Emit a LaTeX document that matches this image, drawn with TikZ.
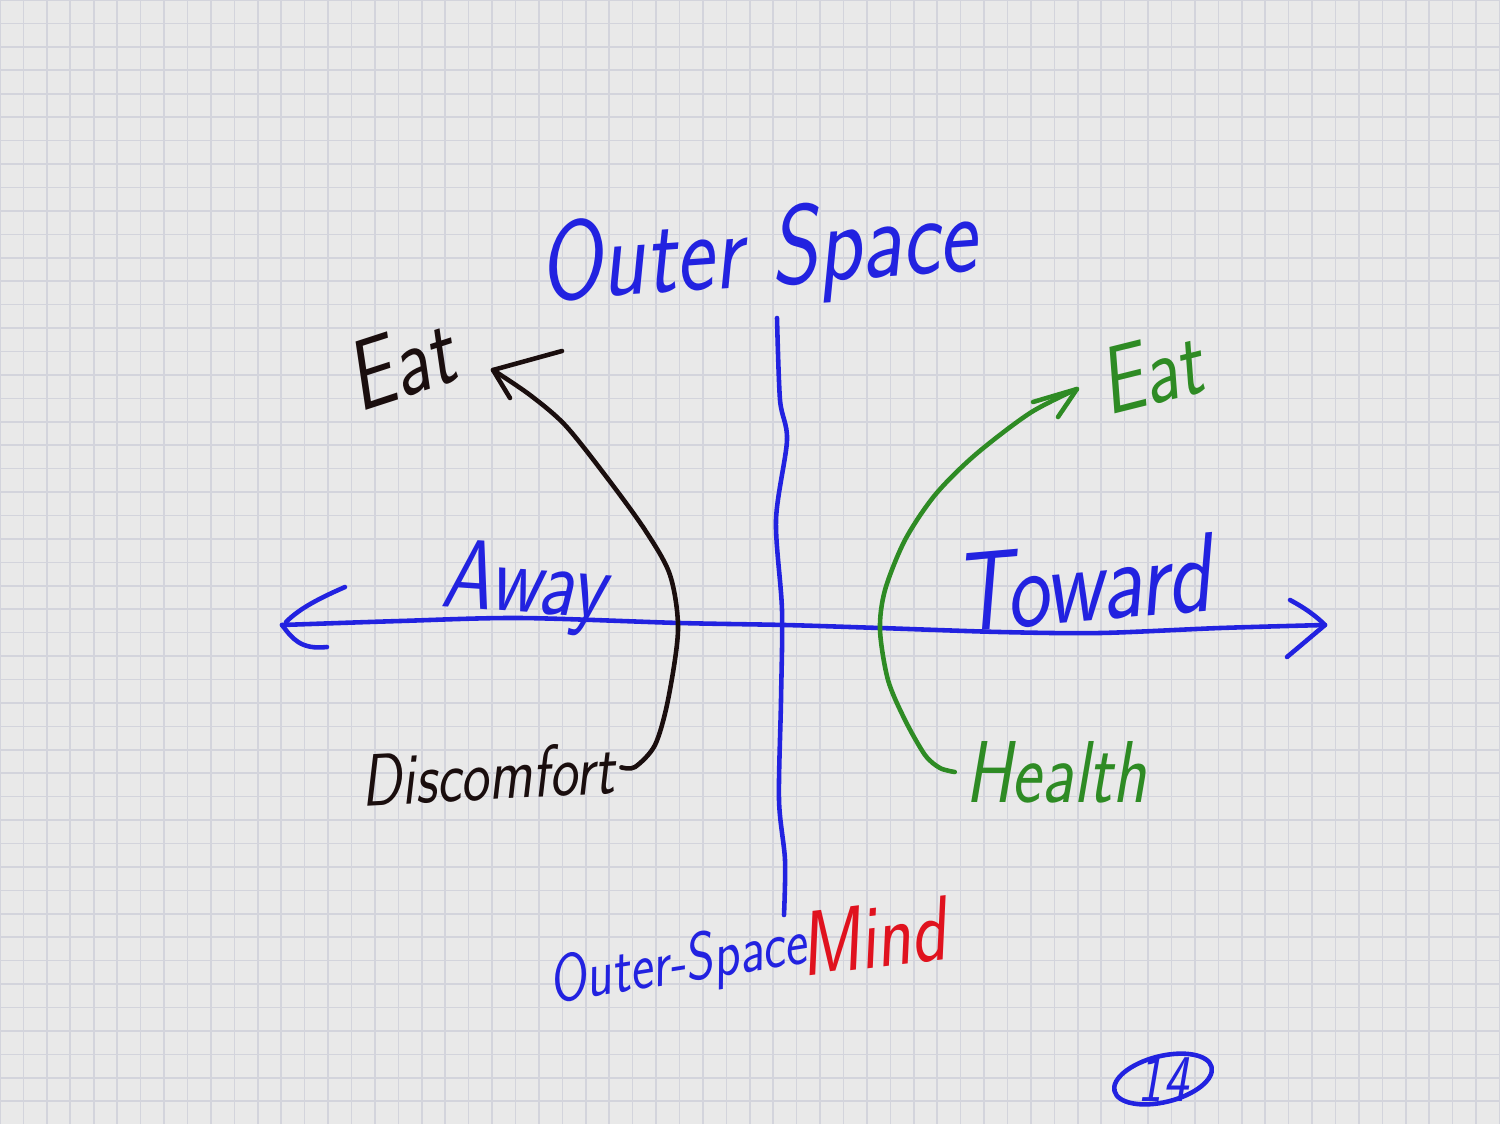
\documentclass[tikz,border=0pt]{standalone}
\usepackage{fontspec}
\usetikzlibrary{positioning}

\definecolor{paper}{HTML}{E9E9E9}
\definecolor{gridink}{HTML}{D3D4DC}
\definecolor{inkblue}{HTML}{2222E0}
\definecolor{inkblack}{HTML}{1A0E0E}
\definecolor{inkgreen}{HTML}{2E8B24}
\definecolor{inkred}{HTML}{E0121E}

% scrittura a mano: un po' stretta
\newcommand{\scritto}[2]{\fontsize{#1}{#1}\selectfont\scalebox{0.8}[1]{#2}}

\tikzset{
  pen/.style={line width=1.3pt, line cap=round, line join=round},
  bluepen/.style={pen, draw=inkblue},
  blackpen/.style={pen, draw=inkblack},
  greenpen/.style={pen, draw=inkgreen},
  hand/.style={font=\sffamily\slshape, inner sep=0pt, outer sep=0pt},
  gridline/.style={draw=gridink, line width=0.45pt}
}

\begin{document}
\begin{tikzpicture}[x=0.01cm, y=-0.01cm]
            % Carta quadrettata
            \fill[paper] (0,0) rectangle (1500,1124);
            \useasboundingbox (0,0) rectangle (1500,1124);
            \foreach \i in {0,...,64}
                \draw[gridline] (\i*23.43,0) -- (\i*23.43,1124);
            \foreach \j in {0,...,47}
                \draw[gridline] (0,\j*23.43) -- (1500,\j*23.43);

            % Etichette
            \node[hand, text=inkblue, rotate=4] (outer) at (758,257) {\scritto{32}{Outer Space}};
            \node[hand, text=inkblack, rotate=18] (eatL) at (400,364) {\scritto{28}{Eat}};
            \node[hand, text=inkgreen, rotate=14] (eatR) at (1150,372) {\scritto{27}{Eat}};
            \node[hand, text=inkblue, rotate=-4] (away) at (524,588) {\scritto{28}{Away}};
            \node[hand, text=inkblue, rotate=5] (toward) at (1082,583) {\scritto{32}{Toward}};
            \node[hand, text=inkblack, rotate=3] (discomfort) at (488,774) {\scritto{21}{Discomfort}};
            \node[hand, text=inkgreen] (health) at (1056,772) {\scritto{25}{Health}};
            \node[hand, text=inkblue, rotate=9] (bottom) at (678,966) {\scritto{19}{Outer-Space}};
            \node[hand, text=inkred, rotate=7, right=-2pt of bottom.east, anchor=west] (mind) {\scritto{26}{Mind}};
            \node[hand, text=inkblue] (page) at (1163,1079) {\scritto{19}{14}};
            \draw[bluepen, rotate around={14:(page.center)}] (page.center) ellipse [x radius=50, y radius=23];

            % Assi
            \coordinate (left) at (282,625);
            \coordinate (right) at (1325,625);
            \coordinate (vtop) at (777,318);
            \coordinate (vbot) at (784,915);
            \draw[bluepen] plot[smooth] coordinates {(left) (400,621) (520,618) (680,623) (785,625) (880,628) (1000,632) (1100,633) (1220,628) (right)};
            \draw[bluepen] plot[smooth] coordinates {(vtop) (780,400) (787,440) (776,520) (782,610) (781,700) (779,800) (785,860) (vbot)};
            \draw[bluepen] (345,587) .. controls (320,598) and (300,608) .. (286,622);
            \draw[bluepen] (left) .. controls (292,638) and (300,650) .. (327,647);
            \draw[bluepen] (1290,600) .. controls (1305,608) and (1316,616) .. (right) -- (1287,657);

            % Freccia nera: Discomfort -> Eat
            \coordinate (tipL) at (493,370);
            \draw[blackpen] plot[smooth] coordinates {([xshift=2pt]discomfort.east) (635,767) (655,745) (668,700) (678,630) (670,575) (645,530) (605,475) (565,425) (530,395) (tipL)};
            \draw[blackpen] (562,351) -- (tipL) -- (510,398);

            % Freccia verde: Health -> Eat
            \coordinate (tipR) at (1077,389);
            \draw[greenpen] plot[smooth] coordinates {([xshift=-3pt]health.west) (940,768) (925,755) (905,720) (888,680) (880,630) (885,590) (905,540) (935,495) (975,455) (1030,413) (tipR)};
            \draw[greenpen] (1033,402) -- (tipR) -- (1058,417);
\end{tikzpicture}
\end{document}
